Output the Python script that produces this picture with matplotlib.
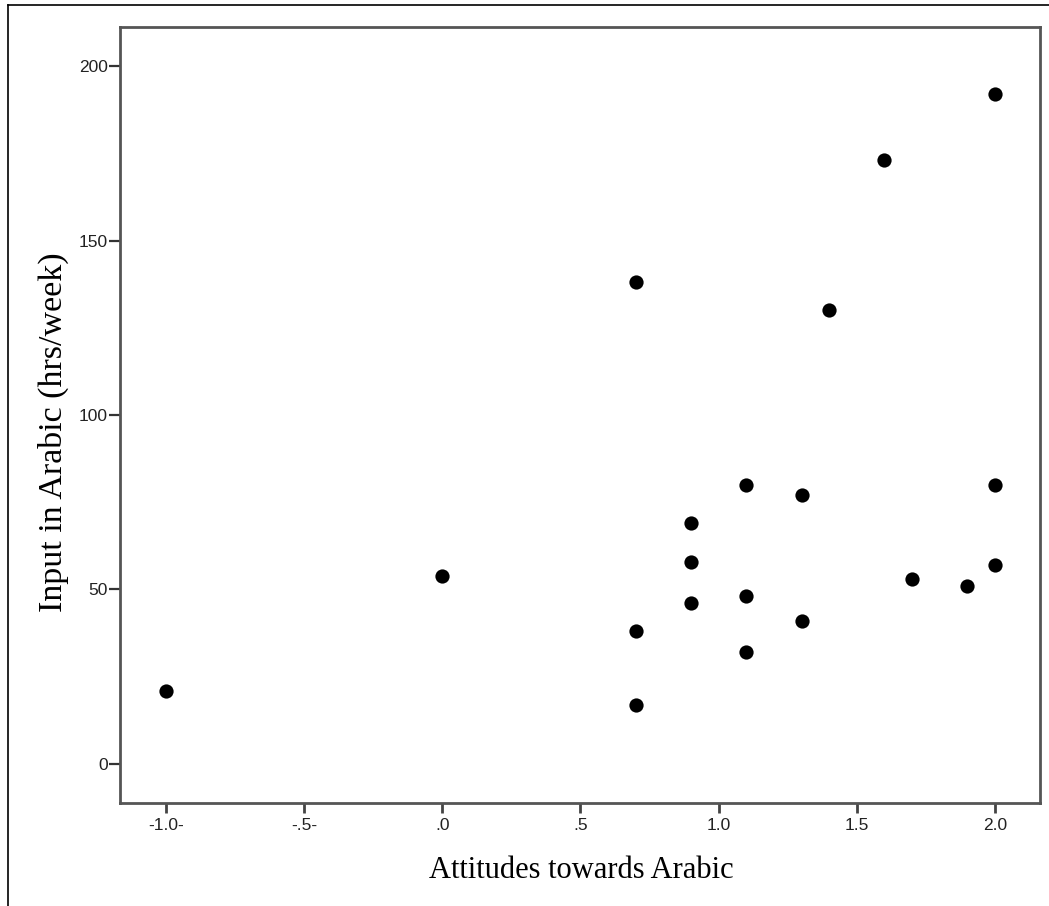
import matplotlib
matplotlib.use("Agg")
import matplotlib.pyplot as plt
from matplotlib.lines import Line2D

# Data
attitudes = [-1.0, 0.0, 0.7, 0.7, 0.7, 0.9, 0.9, 0.9, 1.1, 1.1, 1.1,
             1.3, 1.3, 1.4, 1.6, 1.7, 1.9, 2.0, 2.0, 2.0]
input_hrs = [21, 54, 138, 38, 17, 69, 58, 46, 80, 48, 32,
             77, 41, 130, 173, 53, 51, 192, 80, 57]

x_ticks = [-1.0, -0.5, 0.0, 0.5, 1.0, 1.5, 2.0]
x_tick_labels = ["-1.0-", "-.5-", ".0", ".5", "1.0", "1.5", "2.0"]
y_ticks = [0, 50, 100, 150, 200]
y_tick_labels = ["0", "50", "100", "150", "200"]

W, H = 1049, 906
fig = plt.figure(figsize=(W / 100, H / 100), dpi=100)
fig.patch.set_facecolor("white")

# outer frame lines (top and left)
fig.add_artist(Line2D([8 / W, 1.0], [1 - 5 / H, 1 - 5 / H], transform=fig.transFigure,
                      color="black", lw=1.2))
fig.add_artist(Line2D([8 / W, 8 / W], [0.0, 1 - 5 / H], transform=fig.transFigure,
                      color="black", lw=1.2))

ax = fig.add_axes([120 / W, 1 - 803 / H, (1040 - 120) / W, (803 - 27) / H])
ax.scatter(attitudes, input_hrs, s=105, color="black", zorder=3, linewidths=0)

ax.set_xlim(-1.166, 2.163)
ax.set_ylim(-11.2, 211.2)
ax.set_xticks(x_ticks)
ax.set_xticklabels(x_tick_labels, fontsize=12.5, family="Liberation Sans", color="#222222")
ax.set_yticks(y_ticks)
ax.set_yticklabels(y_tick_labels, fontsize=12.5, family="Liberation Sans", color="#222222")
ax.tick_params(axis="x", direction="out", length=7.5, width=2, color="#444444", pad=3)
ax.tick_params(axis="y", direction="out", length=8, width=1.6, color="#333333", pad=1)

for sp in ax.spines.values():
    sp.set_linewidth(2)
    sp.set_color("#555555")

ax.set_xlabel("Attitudes towards Arabic", family="Liberation Serif", fontsize=22)
ax.set_ylabel("Input in Arabic (hrs/week)", family="Liberation Serif", fontsize=24.5)
ax.xaxis.label.set_va("center")
ax.yaxis.label.set_va("center")
ax.xaxis.set_label_coords(581 / W, 1 - 870 / H, transform=fig.transFigure)
ax.yaxis.set_label_coords(53 / W, 1 - 432 / H, transform=fig.transFigure)

fig.savefig("out.png", dpi=100, facecolor="white")
